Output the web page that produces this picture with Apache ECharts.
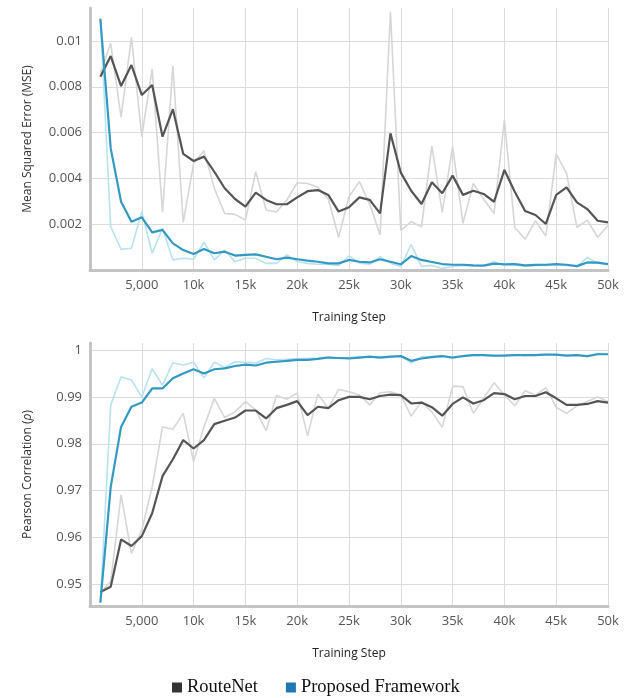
<!DOCTYPE html>
<html>
<head>
<meta charset="utf-8">
<script src="https://cdn.jsdelivr.net/npm/echarts@6/dist/echarts.min.js"></script>
<style>
html,body{margin:0;padding:0;background:#fff;}
#c{width:625px;height:698px;}
</style>
</head>
<body>
<div id="c"></div>
<script>
const steps = [1000,2000,3000,4000,5000,6000,7000,8000,9000,10000,
  11000,12000,13000,14000,15000,16000,17000,18000,19000,20000,
  21000,22000,23000,24000,25000,26000,27000,28000,29000,30000,
  31000,32000,33000,34000,35000,36000,37000,38000,39000,40000,
  41000,42000,43000,44000,45000,46000,47000,48000,49000,50000];

const xTicks = [0,5000,10000,15000,20000,25000,30000,35000,40000,45000,50000];
const mseTicks = [0.002,0.004,0.006,0.008,0.01];
const corrTicks = [0.95,0.96,0.97,0.98,0.99,1];

// MSE (top)
const routeMseRaw = [0.0086,0.0099,0.00667,0.01016,0.00582,0.00878,0.00252,0.00891,0.00208,0.00466,
  0.00521,0.00357,0.00247,0.00243,0.00218,0.00429,0.00262,0.00253,0.00306,0.00381,
  0.00378,0.00361,0.0031,0.00143,0.0032,0.00386,0.00288,0.00153,0.01128,0.00172,
  0.00211,0.00189,0.00541,0.00252,0.00539,0.00204,0.00378,0.00309,0.00247,0.00655,
  0.00186,0.00134,0.00215,0.00148,0.00507,0.00422,0.00186,0.00218,0.00143,0.00194];
const routeMseSmooth = [0.00844,0.00934,0.00803,0.00895,0.00764,0.00808,0.00582,0.00702,0.00507,0.00476,
  0.00495,0.00429,0.00357,0.0031,0.00277,0.00338,0.00306,0.00287,0.00287,0.00317,
  0.00344,0.00349,0.00328,0.00255,0.00274,0.00317,0.00306,0.00247,0.00597,0.00425,
  0.00346,0.00288,0.00383,0.00335,0.00412,0.00328,0.00346,0.00332,0.00298,0.00437,
  0.00342,0.00258,0.0024,0.00201,0.00328,0.00361,0.00295,0.00266,0.00215,0.00208];
const propMseRaw = [0.011,0.00189,0.0009,0.00095,0.00255,0.00073,0.00182,0.00044,0.00051,0.00047,
  0.00121,0.00044,0.00087,0.00036,0.00051,0.00051,0.00029,0.00029,0.00066,0.00036,
  0.00029,0.00025,0.00025,0.0002,0.00061,0.0003,0.00025,0.00058,0.0003,0.00015,
  0.00112,0.00015,0.0002,0.00007,0.00015,0.0002,0.00018,0.0002,0.00036,0.0002,
  0.00022,0.00015,0.0002,0.0002,0.00025,0.0002,0.00015,0.00055,0.0003,0.00025];
const propMseSmooth = [0.01096,0.00531,0.00298,0.00211,0.0023,0.00164,0.00175,0.00116,0.00087,0.0007,
  0.00092,0.00073,0.0008,0.00063,0.00066,0.00068,0.00058,0.00047,0.00054,0.00047,
  0.00041,0.00036,0.00029,0.00029,0.00044,0.00036,0.00033,0.00047,0.00036,0.00025,
  0.00061,0.00044,0.00035,0.00026,0.00023,0.00023,0.0002,0.00019,0.00028,0.00025,
  0.00026,0.0002,0.00022,0.00023,0.00026,0.00023,0.00017,0.00033,0.00032,0.00026];

// Pearson correlation (bottom)
const routeCorrRaw = [0.9481,0.9506,0.9691,0.9566,0.9616,0.9708,0.9836,0.9831,0.9865,0.9762,
  0.9836,0.9897,0.9856,0.9868,0.9890,0.9872,0.9828,0.9903,0.9895,0.9908,
  0.9817,0.9906,0.9876,0.9916,0.9911,0.9904,0.9883,0.9909,0.9911,0.9904,
  0.9859,0.9890,0.9868,0.9835,0.9923,0.9922,0.9865,0.9897,0.9930,0.9904,
  0.9881,0.9913,0.9904,0.9920,0.9878,0.9865,0.9881,0.9890,0.9900,0.9890];
const routeCorrSmooth = [0.9484,0.9495,0.9596,0.9582,0.9603,0.9652,0.9731,0.9767,0.9808,0.9790,
  0.9808,0.9842,0.9849,0.9856,0.9871,0.9871,0.9854,0.9876,0.9883,0.9891,
  0.9861,0.9879,0.9876,0.9893,0.9900,0.9900,0.9895,0.9902,0.9905,0.9904,
  0.9886,0.9888,0.9878,0.9860,0.9885,0.9899,0.9886,0.9893,0.9908,0.9906,
  0.9895,0.9902,0.9902,0.9910,0.9897,0.9883,0.9883,0.9885,0.9891,0.9888];
const propCorrRaw = [0.9461,0.9883,0.9943,0.9936,0.9900,0.9960,0.9925,0.9973,0.9968,0.9974,
  0.9940,0.9974,0.9963,0.9975,0.9974,0.9972,0.9982,0.9979,0.9980,0.9982,
  0.9982,0.9983,0.9985,0.9982,0.9984,0.9986,0.9984,0.9986,0.9985,0.9988,
  0.9972,0.9986,0.9986,0.9988,0.9982,0.9988,0.9990,0.9989,0.9987,0.9989,
  0.9990,0.9988,0.9990,0.9991,0.9989,0.9989,0.9990,0.9986,0.9993,0.9992];
const propCorrSmooth = [0.9461,0.9708,0.9836,0.9879,0.9888,0.9918,0.9918,0.9940,0.9950,0.9959,
  0.9950,0.9959,0.9961,0.9966,0.9969,0.9967,0.9973,0.9975,0.9977,0.9979,
  0.9979,0.9981,0.9984,0.9983,0.9982,0.9984,0.9986,0.9984,0.9986,0.9987,
  0.9977,0.9982,0.9985,0.9987,0.9984,0.9987,0.9989,0.9989,0.9988,0.9988,
  0.9989,0.9989,0.9989,0.9990,0.9990,0.9988,0.9989,0.9987,0.9991,0.9991];

const pairs = ys => steps.map((s, i) => [s, ys[i]]);

const FONT = 'Open Sans';
const C_GRAY_RAW = '#d6d6d6';
const C_DARK = '#555555';
const C_BLUE_RAW = '#b8e2f0';
const C_BLUE = '#3399c2';

function xAxisCfg(idx) {
  return {
    type: 'value', gridIndex: idx, min: 0, max: 50000, interval: 5000,
    name: 'Training Step', nameLocation: 'middle', nameGap: 42,
    nameTextStyle: { fontFamily: FONT, fontSize: 12, color: '#222' },
    axisLine: { show: true, lineStyle: { color: '#c4c4c4', width: 3 } },
    axisTick: { show: false },
    axisLabel: {
      fontFamily: FONT, fontSize: 13, color: '#555', margin: 9,
      formatter: v => v === 0 ? '' : (v === 5000 ? '5,000' : (v / 1000) + 'k')
    },
    splitLine: { show: true, lineStyle: { color: '#dcdcdc', width: 1 } }
  };
}

function yAxisCfg(idx, min, max, ticks, name, fmt) {
  return {
    type: 'value', gridIndex: idx, min: min, max: max,
    name: name, nameLocation: 'middle', nameGap: 56,
    nameTextStyle: { fontFamily: FONT, fontSize: 12, color: '#333',
      rich: { i: { fontFamily: FONT, fontSize: 12, color: '#333', fontStyle: 'italic' } } },
    axisLine: { show: true, lineStyle: { color: '#c4c4c4', width: 3 } },
    axisTick: { show: false, customValues: ticks },
    axisLabel: { customValues: ticks, fontFamily: FONT, fontSize: 13, color: '#555', margin: 8, formatter: fmt },
    splitLine: { show: true, lineStyle: { color: '#dcdcdc', width: 1 } }
  };
}

function line(name, xi, data, color, width, z) {
  return {
    type: 'line', name: name, xAxisIndex: xi, yAxisIndex: xi, data: pairs(data),
    showSymbol: false, symbol: 'none', z: z,
    lineStyle: { color: color, width: width }, itemStyle: { color: color }
  };
}

const chart = echarts.init(document.getElementById('c'), null, { renderer: 'canvas' });
chart.setOption({
  animation: false,
  backgroundColor: '#fff',
  grid: [
    { left: 90, right: 17, top: 8, height: 262 },
    { left: 90, right: 17, top: 343, height: 263 }
  ],
  xAxis: [xAxisCfg(0), xAxisCfg(1)],
  yAxis: [
    yAxisCfg(0, 0, 0.01144, mseTicks, 'Mean Squared Error (MSE)', v => String(+v.toFixed(4))),
    yAxisCfg(1, 0.9454, 1.0015, corrTicks, 'Pearson Correlation ({i|ρ})', v => String(+v.toFixed(2)))
  ],
  legend: {
    data: [
      { name: 'RouteNet', itemStyle: { color: '#333333' } },
      { name: 'Proposed Framework', itemStyle: { color: '#1f77b4' } }
    ],
    icon: 'rect', itemWidth: 10, itemHeight: 10, itemGap: 28, padding: 0,
    left: 172, top: 678,
    textStyle: { fontFamily: 'Liberation Serif', fontSize: 18.5, color: '#111' }
  },
  series: [
    line('RouteNet raw', 0, routeMseRaw, C_GRAY_RAW, 1.6, 1),
    line('Proposed raw', 0, propMseRaw, C_BLUE_RAW, 1.6, 2),
    line('RouteNet', 0, routeMseSmooth, C_DARK, 2.2, 3),
    line('Proposed Framework', 0, propMseSmooth, C_BLUE, 2.2, 4),
    line('RouteNet raw', 1, routeCorrRaw, C_GRAY_RAW, 1.6, 1),
    line('Proposed raw', 1, propCorrRaw, C_BLUE_RAW, 1.6, 2),
    line('RouteNet', 1, routeCorrSmooth, C_DARK, 2.2, 3),
    line('Proposed Framework', 1, propCorrSmooth, C_BLUE, 2.2, 4)
  ]
});
</script>
</body>
</html>
